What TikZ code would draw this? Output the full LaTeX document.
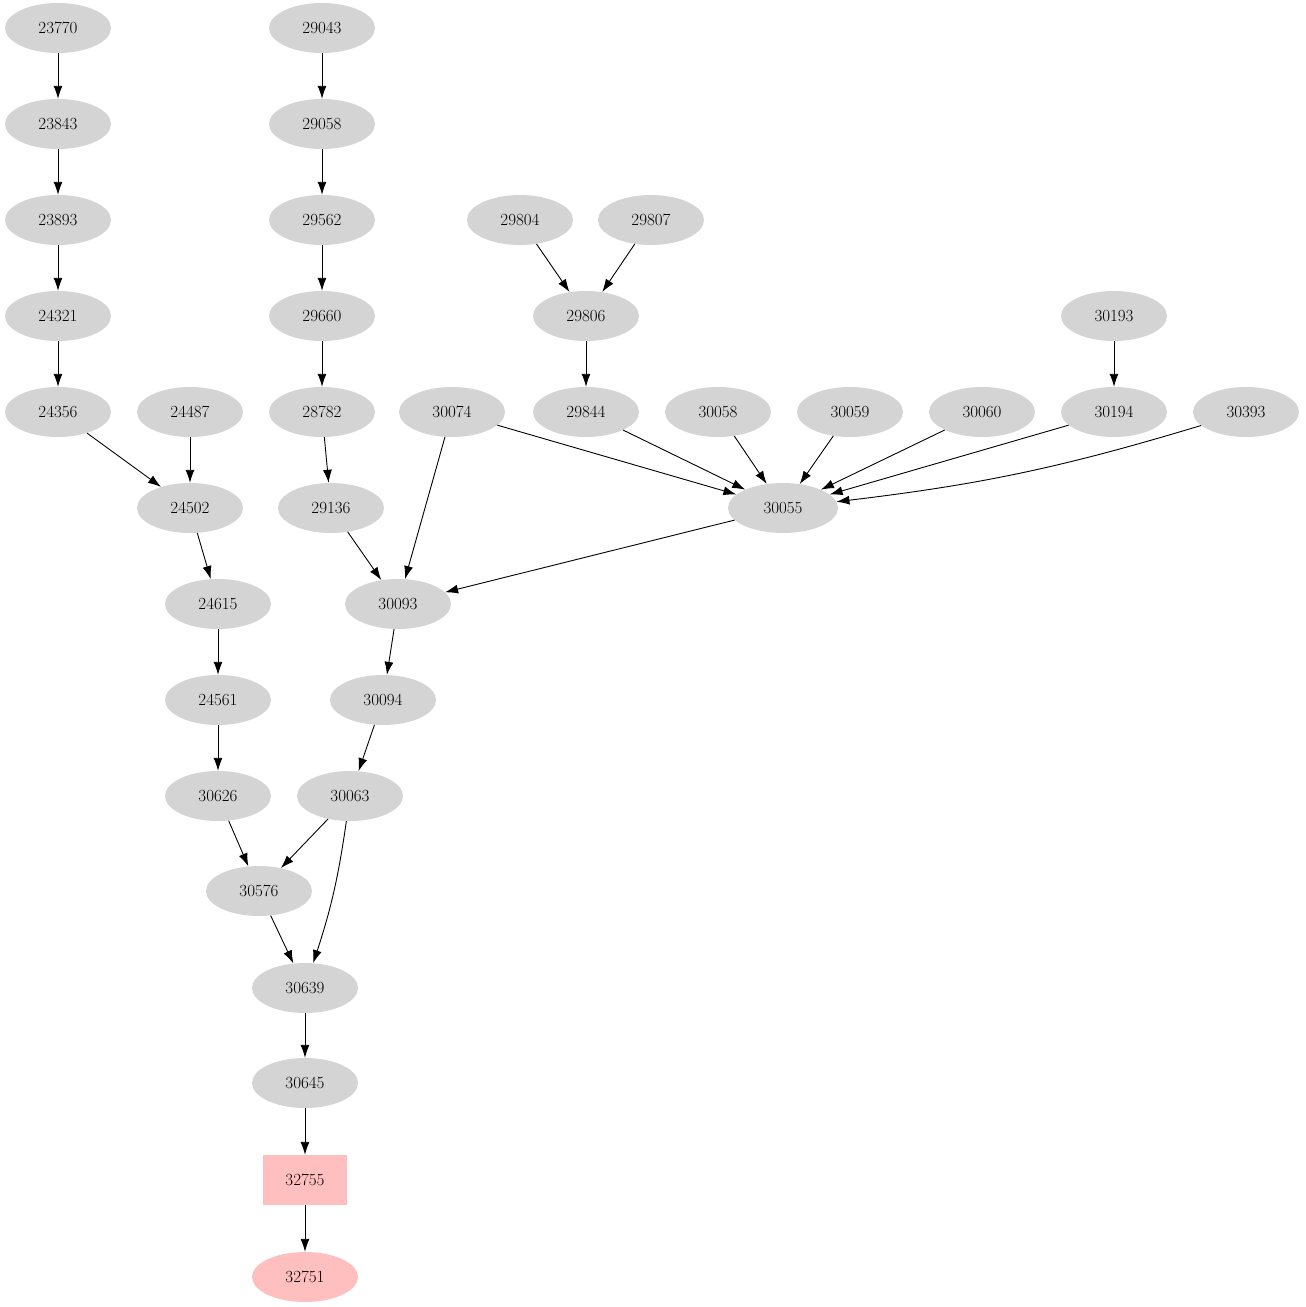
\documentclass[tikz,border=0pt]{standalone}
\usetikzlibrary{shapes.geometric,arrows.meta}
\begin{document}
\begin{tikzpicture}[x=1pt,y=-1pt,
 nd/.style={ellipse,fill=black!17,minimum width=106pt,minimum height=50pt,inner sep=0pt,font=\fontsize{17}{20}\selectfont},
 pk/.style={nd,fill=pink!90!red!40},
 bx/.style={rectangle,fill=pink,minimum width=84pt,minimum height=50pt,inner sep=0pt,font=\fontsize{17}{20}\selectfont},
 ar/.style={-{Latex[length=13pt,width=9pt]},line width=0.9pt}]
\useasboundingbox (0,0) rectangle (1306,1307);
\foreach \n/\x/\y in {23770/58/28,23843/58/124,23893/58/220,24321/58/316,24356/58/412,24487/190/412,24502/190/508,24615/218/604,24561/218/700,30626/218/796,30576/259/891,30639/305/988,30645/305/1083,29043/322/28,29058/322/124,29562/322/220,29660/322/316,28782/322/412,29136/331/508,30093/398/604,30094/383/700,30063/350/796,29804/520/220,29807/651/220,29806/586/316,29844/586/412,30074/452/412,30058/718/412,30059/850/412,30060/982/412,30194/1114/412,30193/1114/316,30393/1246/412}
 \node[nd] (n\n) at (\x,\y) {\n};
\node[nd,minimum width=110pt] (n30055) at (783,508) {30055};
\node[bx] (n32755) at (305,1180) {32755};
\node[nd,fill=pink] (n32751) at (305,1277) {32751};
\foreach \a/\b in {23770/23843,23843/23893,23893/24321,24321/24356,24356/24502,24487/24502,24502/24615,24615/24561,24561/30626,30626/30576,30063/30576,30576/30639,30639/30645,30645/32755,32755/32751,29043/29058,29058/29562,29562/29660,29660/28782,28782/29136,29136/30093,30074/30093,30055/30093,30093/30094,30094/30063,29804/29806,29807/29806,29806/29844,29844/30055,30074/30055,30058/30055,30059/30055,30060/30055,30194/30055,30193/30194}
 \draw[ar] (n\a) -- (n\b);
\draw[ar] (n30063) to[bend left=5] (n30639);
\draw[ar] (n30393) to[bend left=5] (n30055);
\end{tikzpicture}
\end{document}
